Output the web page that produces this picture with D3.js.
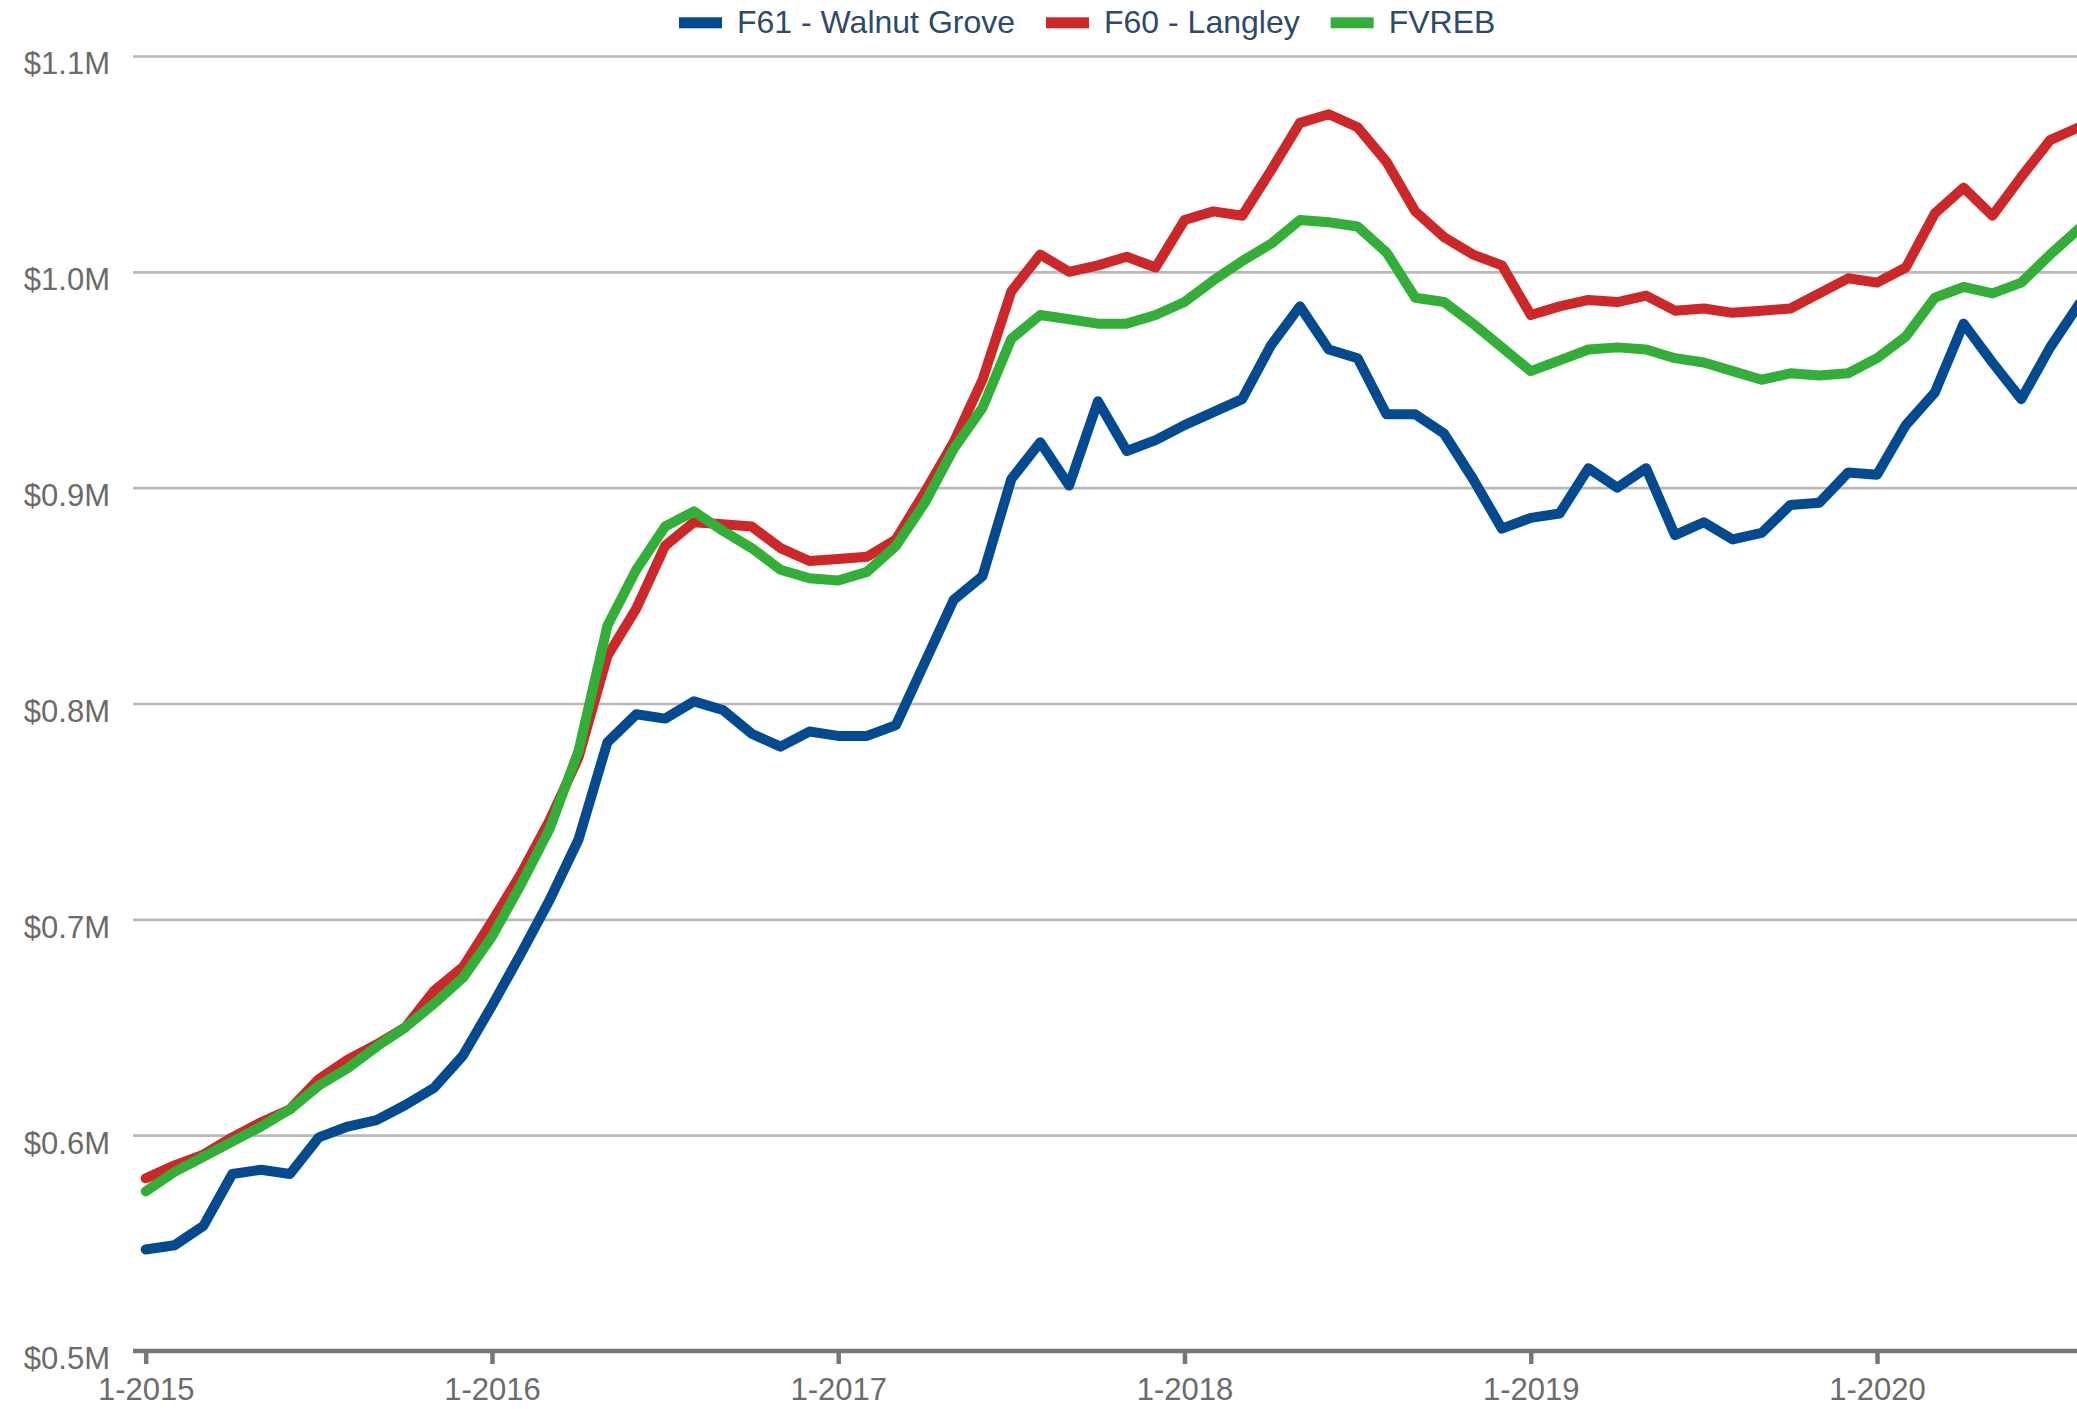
<!DOCTYPE html>
<html>
<head>
<meta charset="utf-8">
<script src="https://cdn.jsdelivr.net/npm/d3@7"></script>
<style>
  html, body { margin: 0; padding: 0; background: #fff; overflow: hidden; }
  svg { display: block; font-family: "Liberation Sans", Arial, sans-serif; }
</style>
</head>
<body>
<svg id="chart" width="2077" height="1409"></svg>
<script>
// Months from 1-2015 (index 0) onward
const startYear = 2015;

// Series values in $ millions
const walnutGrove = [
  0.547, 0.549, 0.558, 0.582, 0.584, 0.582, 0.599, 0.604, 0.607, 0.614, 0.622, 0.637,
  0.660, 0.684, 0.709, 0.737, 0.782, 0.795, 0.793, 0.801, 0.797, 0.786, 0.780, 0.787,
  0.785, 0.785, 0.790, 0.819, 0.848, 0.859, 0.904, 0.921, 0.901, 0.940, 0.917, 0.922,
  0.929, 0.935, 0.941, 0.966, 0.984, 0.964, 0.960, 0.934, 0.934, 0.925, 0.904, 0.881,
  0.886, 0.888, 0.909, 0.900, 0.909, 0.878, 0.884, 0.876, 0.879, 0.892, 0.893, 0.907,
  0.906, 0.929, 0.944, 0.976, 0.958, 0.941, 0.965, 0.985
];
const langley = [
  0.580, 0.586, 0.591, 0.599, 0.606, 0.612, 0.626, 0.635, 0.642, 0.650, 0.667, 0.678,
  0.699, 0.721, 0.746, 0.775, 0.822, 0.844, 0.873, 0.884, 0.883, 0.882, 0.872, 0.866,
  0.867, 0.868, 0.876, 0.898, 0.921, 0.950, 0.991, 1.008, 1.000, 1.003, 1.007, 1.002,
  1.024, 1.028, 1.026, 1.047, 1.069, 1.073, 1.067, 1.051, 1.028, 1.016, 1.008, 1.003,
  0.980, 0.984, 0.987, 0.986, 0.989, 0.982, 0.983, 0.981, 0.982, 0.983, 0.990, 0.997,
  0.995, 1.002, 1.027, 1.039, 1.026, 1.044, 1.061, 1.067
];
const fvreb = [
  0.574, 0.583, 0.590, 0.597, 0.604, 0.612, 0.623, 0.631, 0.641, 0.650, 0.661, 0.673,
  0.692, 0.716, 0.742, 0.778, 0.836, 0.862, 0.882, 0.889, 0.880, 0.872, 0.862, 0.858,
  0.857, 0.861, 0.873, 0.893, 0.918, 0.937, 0.969, 0.980, 0.978, 0.976, 0.976, 0.980,
  0.986, 0.996, 1.005, 1.013, 1.024, 1.023, 1.021, 1.009, 0.988, 0.986, 0.976, 0.965,
  0.954, 0.959, 0.964, 0.965, 0.964, 0.960, 0.958, 0.954, 0.950, 0.953, 0.952, 0.953,
  0.960, 0.970, 0.988, 0.993, 0.990, 0.995, 1.008, 1.020
];

const seriesNames = ["F61 - Walnut Grove", "F60 - Langley", "FVREB"];
const seriesColors = ["#034a91", "#cc2829", "#33ae38"];
const yTicks = [0.5, 0.6, 0.7, 0.8, 0.9, 1.0, 1.1];
const yTickLabels = ["$0.5M", "$0.6M", "$0.7M", "$0.8M", "$0.9M", "$1.0M", "$1.1M"];
const xTicks = [0, 12, 24, 36, 48, 60];
const xTickLabels = ["1-2015", "1-2016", "1-2017", "1-2018", "1-2019", "1-2020"];

const allSeries = [walnutGrove, langley, fvreb];

const W = 2077, H = 1409;
const svg = d3.select("#chart");

const plotLeft = 133, plotRight = W;
const x = d3.scaleLinear().domain([0, 60]).range([145.7, 1877]);
const y = d3.scaleLinear().domain([0.5, 1.1]).range([1351, 56]);

// Gridlines + y labels
const yAxis = d3.axisLeft(y)
  .tickValues(yTicks)
  .tickSize(-(plotRight - plotLeft))
  .tickPadding(23)
  .tickFormat((d, i) => yTickLabels[i]);
const gy = svg.append("g").attr("transform", `translate(${plotLeft},0)`).call(yAxis);
gy.select(".domain").remove();
gy.selectAll(".tick line").attr("stroke", "#b9b9b9").attr("stroke-width", 2.6);
gy.selectAll(".tick text")
  .attr("fill", "#6b6b6b")
  .attr("font-size", 31)
  .attr("font-family", "Liberation Sans, Arial, sans-serif")
  .attr("dy", "0.58em");

// Lines
const line = d3.line()
  .x((d, i) => x(i))
  .y(d => y(d));

const order = [0, 1, 2];
svg.append("g").selectAll("path")
  .data(order)
  .join("path")
  .attr("d", k => line(allSeries[k]))
  .attr("fill", "none")
  .attr("stroke", k => seriesColors[k])
  .attr("stroke-width", 10)
  .attr("stroke-linejoin", "round")
  .attr("stroke-linecap", "round");

// X axis
const xAxis = d3.axisBottom(x)
  .tickValues(xTicks)
  .tickSize(13)
  .tickPadding(14)
  .tickFormat((d, i) => xTickLabels[i]);
const gx = svg.append("g").attr("transform", `translate(0,${y(0.5)})`).call(xAxis);
gx.select(".domain").remove();
gx.selectAll(".tick line").attr("stroke", "#777").attr("stroke-width", 4.5);
gx.selectAll(".tick text")
  .attr("fill", "#6b6b6b")
  .attr("font-size", 31)
  .attr("font-family", "Liberation Sans, Arial, sans-serif")
  .attr("dy", "0.71em");
gx.append("line")
  .attr("x1", plotLeft).attr("x2", plotRight)
  .attr("y1", 0).attr("y2", 0)
  .attr("stroke", "#777").attr("stroke-width", 4.5);

// Legend
const legend = svg.append("g").attr("class", "legend");
let lx = 679;
seriesNames.forEach((name, i) => {
  const g = legend.append("g");
  g.append("rect")
    .attr("x", lx).attr("y", 17.3)
    .attr("width", 43).attr("height", 11)
    .attr("fill", seriesColors[i]);
  const t = g.append("text")
    .attr("x", lx + 58).attr("y", 33.3)
    .attr("font-size", 32)
    .attr("fill", "#2e4a6b")
    .text(name);
  const tw = t.node().getComputedTextLength();
  lx = lx + 58 + tw + 31;
});
</script>
</body>
</html>
